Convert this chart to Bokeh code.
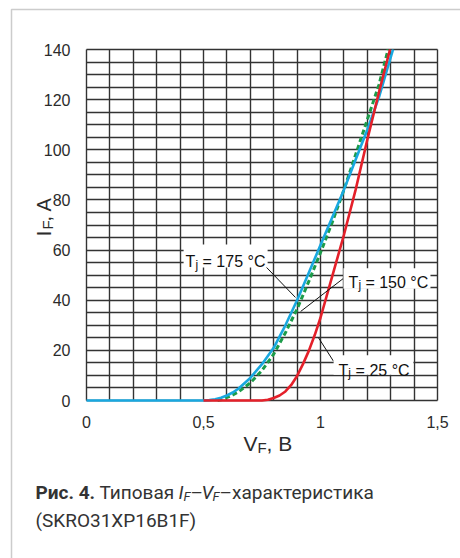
import numpy as np
from bokeh.plotting import figure
from bokeh.models import Range1d, FixedTicker, Label, BoxAnnotation
from bokeh.embed import file_html
from bokeh.resources import INLINE

# ---- data ----
v_25 = [0.5, 0.75, 0.775, 0.8, 0.825, 0.85, 0.875, 0.9, 0.925, 0.95, 0.975, 1.0, 1.05, 1.1, 1.15, 1.2, 1.25, 1.297]
i_25 = [0.0, 0.0, 0.3, 1.0, 2.0, 3.6, 6.2, 9.8, 14.5, 19.8, 26.0, 33.0, 49.5, 66.0, 84.0, 104.0, 123.0, 140.0]

v_150 = [0.56, 0.58, 0.6, 0.625, 0.65, 0.7, 0.75, 0.8, 0.85, 0.9, 0.95, 1.0, 1.05, 1.1, 1.15, 1.2, 1.25, 1.289]
i_150 = [0.0, 0.4, 1.2, 2.2, 3.5, 7.0, 12.0, 18.5, 27.0, 36.5, 47.5, 59.0, 71.0, 84.0, 98.0, 112.0, 126.0, 140.0]

v_175 = [0.0, 0.5, 0.525, 0.55, 0.575, 0.6, 0.625, 0.65, 0.7, 0.75, 0.8, 0.85, 0.9, 0.95, 1.0, 1.05, 1.1, 1.15, 1.2, 1.25, 1.31]
i_175 = [0.0, 0.0, 0.15, 0.5, 1.1, 2.0, 3.2, 4.8, 9.0, 14.5, 21.0, 30.0, 40.0, 51.0, 62.0, 73.0, 84.0, 96.0, 108.0, 121.0, 140.0]

x_ticks = [0.0, 0.5, 1.0, 1.5]
x_tick_labels = ["0", "0,5", "1", "1,5"]
y_ticks = [0, 20, 40, 60, 80, 100, 120, 140]
grid_v = [round(k * 0.1, 1) for k in range(16)]
grid_i = [k * 5 for k in range(29)]
V_MAX, I_MAX = 1.5, 140

series_labels = ["175", "150", "25"]

FONT = "Liberation Sans"
CAP_FONT = "Roboto"
GRID = "#333333"
TXT = "#2b2b2b"

# pixel scale of the chart area: 351 px for 1.5 V and for 140 A
PX_V = 351 / 1.5
PX_I = 351 / 140

p = figure(width=460, height=558, output_backend="svg", toolbar_location=None, title=None,
           x_range=Range1d(-86 / PX_V, 374 / PX_V), y_range=Range1d(-158 / PX_I, 400 / PX_I),
           min_border=0, min_border_left=0, min_border_right=0, min_border_top=0,
           min_border_bottom=0)
p.outline_line_color = None
p.background_fill_color = "white"
p.border_fill_color = "white"

p.xaxis.ticker = FixedTicker(ticks=x_ticks)
p.xaxis.major_label_overrides = {t: s for t, s in zip(x_ticks, x_tick_labels)}
p.yaxis.ticker = FixedTicker(ticks=y_ticks)
p.xaxis.fixed_location = 0
p.yaxis.fixed_location = 0
for ax in (p.xaxis[0], p.yaxis[0]):
    ax.axis_line_color = None
    ax.major_tick_line_color = None
    ax.minor_tick_line_color = None
    ax.major_label_text_font = FONT
    ax.major_label_text_font_size = "16px"
    ax.major_label_text_color = TXT
p.xaxis.major_label_standoff = 9
p.yaxis.major_label_standoff = 10

p.xgrid.ticker = FixedTicker(ticks=grid_v)
p.ygrid.ticker = FixedTicker(ticks=grid_i)
p.xgrid.bounds = (0, V_MAX)
p.xgrid.cross_bounds = (0, I_MAX)
p.ygrid.bounds = (0, I_MAX)
p.ygrid.cross_bounds = (0, V_MAX)
for g in (p.xgrid[0], p.ygrid[0]):
    g.grid_line_color = GRID
    g.grid_line_width = 1.4

# curves
p.line(v_150, i_150, line_color="#1c9c4a", line_width=3, line_dash="5 3")
p.line(v_175, i_175, line_color="#19a8e0", line_width=2.6)
p.line(v_25, i_25, line_color="#e4202a", line_width=2.6)

# leader lines
p.segment(x0=[0.761, 1.098, 1.056], y0=[53.9, 48.7, 15.6],
          x1=[0.893, 0.915, 0.991], y1=[41.1, 35.5, 25.1],
          line_color="#111111", line_width=1)

# white boxes behind the series labels
box_l = [0.415, 1.098, 1.056]
box_r = [0.774, 1.470, 1.397]
box_b = [53.0, 44.6, 10.3]
box_t = [62.2, 52.7, 18.0]
for l, r, b, t in zip(box_l, box_r, box_b, box_t):
    p.add_layout(BoxAnnotation(left=l, right=r, bottom=b, top=t, fill_color="white",
                               fill_alpha=1, line_color=None, level="overlay"))

label_pos = [(0.423, 55.4, 0.466, 54.2, 0.496), (1.120, 47.1, 1.162, 45.9, 1.192),
             (1.077, 12.0, 1.119, 10.8, 1.150)]
for s, (tx, ty, jx, jy, ex) in zip(series_labels, label_pos):
    p.add_layout(Label(x=tx, y=ty, text="T", text_font=FONT, text_font_size="16px",
                       text_color="#111111", text_baseline="alphabetic", level="overlay"))
    p.add_layout(Label(x=jx, y=jy, text="j", text_font=FONT, text_font_size="12px",
                       text_color="#111111", text_baseline="alphabetic", level="overlay"))
    p.add_layout(Label(x=ex, y=ty, text="= %s °C" % s, text_font=FONT, text_font_size="16px",
                       text_color="#111111", text_baseline="alphabetic", level="overlay"))

# outer frame
p.add_layout(BoxAnnotation(left=11, right=490, top=9, bottom=600, left_units="canvas",
                           right_units="canvas", top_units="canvas", bottom_units="canvas",
                           fill_alpha=0, line_color="#555555", line_width=1.5))

def clabel(x, y, text, size, font=FONT, style="normal", angle=0.0, color=TXT):
    p.add_layout(Label(x=x, y=y, x_units="canvas", y_units="canvas", text=text,
                       text_font=font, text_font_size=size, text_font_style=style,
                       text_color=color, text_baseline="alphabetic", angle=angle))

# axis titles
clabel(243, 443, "V", "21px")
clabel(257, 447, "F", "15px")
clabel(266, 443, ", B", "21px")
clabel(43, 236, "I", "21px", angle=np.pi / 2)
clabel(46.5, 229, "F", "15px", angle=np.pi / 2)
clabel(43, 221, ", A", "20px", angle=np.pi / 2)

# caption
CC = "#333333"
clabel(35, 492, "Рис. 4.", "19px", font=CAP_FONT, style="bold", color=CC)
clabel(99, 492, "Типовая", "19px", font=CAP_FONT, color=CC)
clabel(178, 492, "I", "19px", font=CAP_FONT, style="italic", color=CC)
clabel(183, 496, "F", "13px", font=CAP_FONT, style="italic", color=CC)
clabel(190, 492, "–", "19px", font=CAP_FONT, color=CC)
clabel(201, 492, "V", "19px", font=CAP_FONT, style="italic", color=CC)
clabel(212, 496, "F", "13px", font=CAP_FONT, style="italic", color=CC)
clabel(219, 492, "–характеристика", "19px", font=CAP_FONT, color=CC)
clabel(35, 520, "(SKRO31XP16B1F)", "19px", font=CAP_FONT, color=CC)

open("out.html", "w").write(file_html(p, INLINE))
